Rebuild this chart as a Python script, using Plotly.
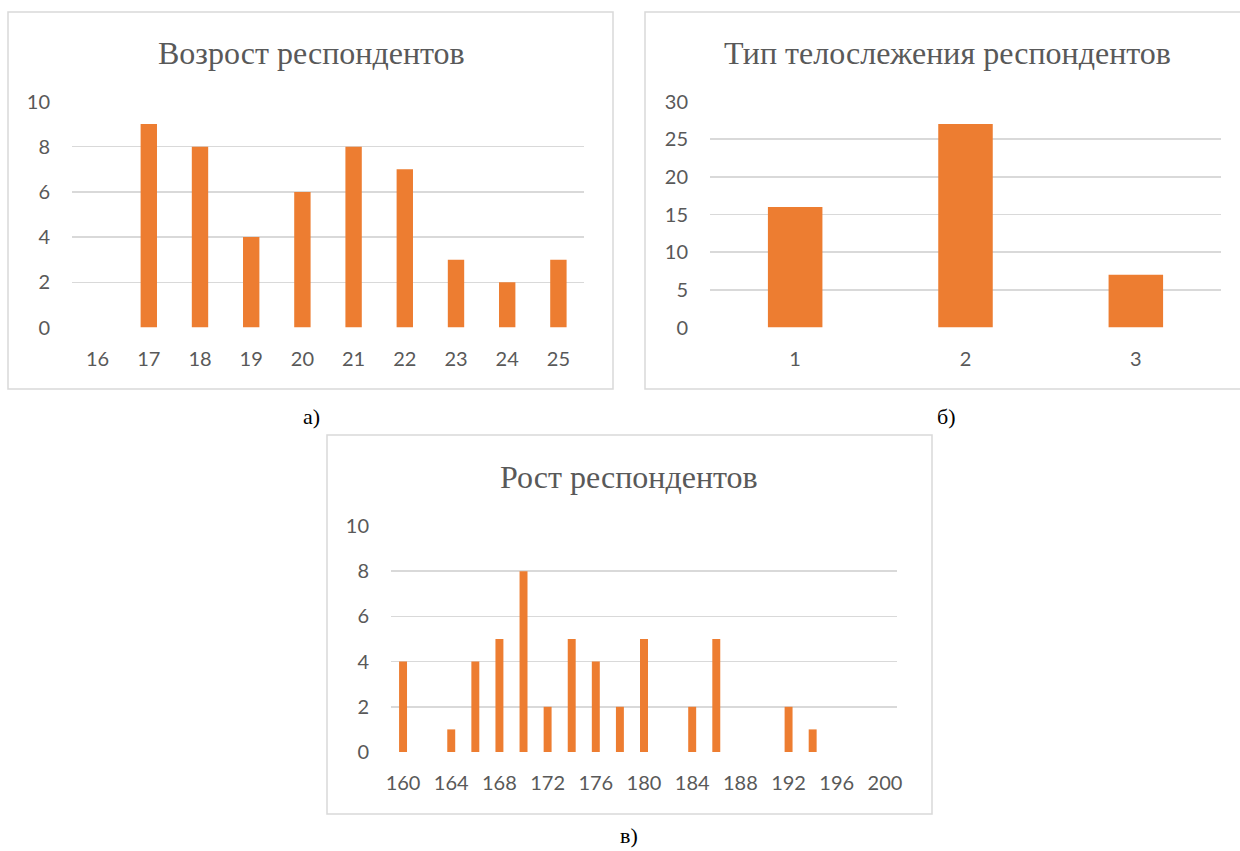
import plotly.graph_objects as go

# Chart a) age
age_categories = ["16", "17", "18", "19", "20", "21", "22", "23", "24", "25"]
age_counts = [0, 9, 8, 4, 6, 8, 7, 3, 2, 3]

# Chart b) body type
type_categories = ["1", "2", "3"]
type_counts = [16, 27, 7]

# Chart c) height
height_categories = [str(v) for v in [160, 162, 164, 166, 168, 170, 172, 174, 176, 178, 180,
                                       182, 184, 186, 188, 190, 192, 194, 196, 198, 200]]
height_counts = [4, 0, 1, 4, 5, 8, 2, 5, 4, 2, 5, 0, 2, 5, 0, 0, 2, 1, 0, 0, 0]
height_ticklabels = ["160", "164", "168", "172", "176", "180", "184", "188", "192", "196", "200"]

titles = ["Возрост респондентов", "Тип телослежения респондентов", "Рост респондентов"]
captions = ["а)", "б)", "в)"]

W, H = 1240, 851
BAR = "#ED7D31"
GRID = "#d9d9d9"
TXT = "#595959"
TICKFONT = dict(family="Lato, Open Sans, sans-serif", size=20, color=TXT)
SERIF = "Liberation Serif, Times New Roman, serif"


def px(x):
    return x / W


def py(y):
    return 1 - y / H


fig = go.Figure()
fig.add_trace(go.Bar(x=age_categories, y=age_counts, marker_color=BAR, marker_line_width=0,
                     width=0.32, xaxis="x", yaxis="y", showlegend=False, hoverinfo="skip"))
fig.add_trace(go.Bar(x=type_categories, y=type_counts, marker_color=BAR, marker_line_width=0,
                     width=0.32, xaxis="x2", yaxis="y2", showlegend=False, hoverinfo="skip"))
fig.add_trace(go.Bar(x=height_categories, y=height_counts, marker_color=BAR, marker_line_width=0,
                     width=0.33, xaxis="x3", yaxis="y3", showlegend=False, hoverinfo="skip"))

common_x = dict(type="category", showgrid=False, zeroline=False, showline=False,
                ticks="", tickfont=TICKFONT, fixedrange=True, automargin=False,
                ticklabelstandoff=17)
common_y = dict(showgrid=True, gridcolor=GRID, gridwidth=1.5, zeroline=False, showline=False,
                ticks="", tickfont=TICKFONT, ticklabelstandoff=21, fixedrange=True,
                automargin=False)

fig.update_layout(
    template="none",
    width=W, height=H,
    margin=dict(l=0, r=0, t=0, b=0, pad=0, autoexpand=False),
    paper_bgcolor="white", plot_bgcolor="white",
    xaxis=dict(common_x, domain=[px(72), px(584)], anchor="y"),
    yaxis=dict(common_y, domain=[py(327.5), py(101.5)], anchor="x", range=[0, 10], dtick=2),
    xaxis2=dict(common_x, domain=[px(710), px(1221)], anchor="y2"),
    yaxis2=dict(common_y, domain=[py(327.5), py(101.5)], anchor="x2", range=[0, 30], dtick=5),
    xaxis3=dict(common_x, domain=[px(391), px(897)], anchor="y3",
                tickmode="array", tickvals=height_ticklabels, ticktext=height_ticklabels),
    yaxis3=dict(common_y, domain=[py(752), py(526)], anchor="x3", range=[0, 10], dtick=2),
)

frames = [(8, 12, 613, 389), (645, 12, 1250, 389), (327, 435, 932, 814)]
for x0, y0, x1, y1 in frames:
    fig.add_shape(type="rect", xref="paper", yref="paper",
                  x0=px(x0), x1=px(x1), y0=py(y1), y1=py(y0),
                  line=dict(color=GRID, width=1.5), fillcolor="rgba(0,0,0,0)", layer="below")

title_pos = [(311, 53), (947, 53), (629, 477)]
for t, (x, y) in zip(titles, title_pos):
    fig.add_annotation(text=t, xref="paper", yref="paper", x=px(x), y=py(y),
                       xanchor="center", yanchor="middle", showarrow=False,
                       font=dict(family=SERIF, size=32, color=TXT))

cap_pos = [(311, 416), (946, 416), (629, 835)]
for c, (x, y) in zip(captions, cap_pos):
    fig.add_annotation(text=c, xref="paper", yref="paper", x=px(x), y=py(y),
                       xanchor="center", yanchor="middle", showarrow=False,
                       font=dict(family=SERIF, size=22, color="black"))

fig.write_html("out.html", config={"displayModeBar": False, "staticPlot": True},
               post_script="document.body.style.margin='0';document.body.style.overflow='hidden';")
